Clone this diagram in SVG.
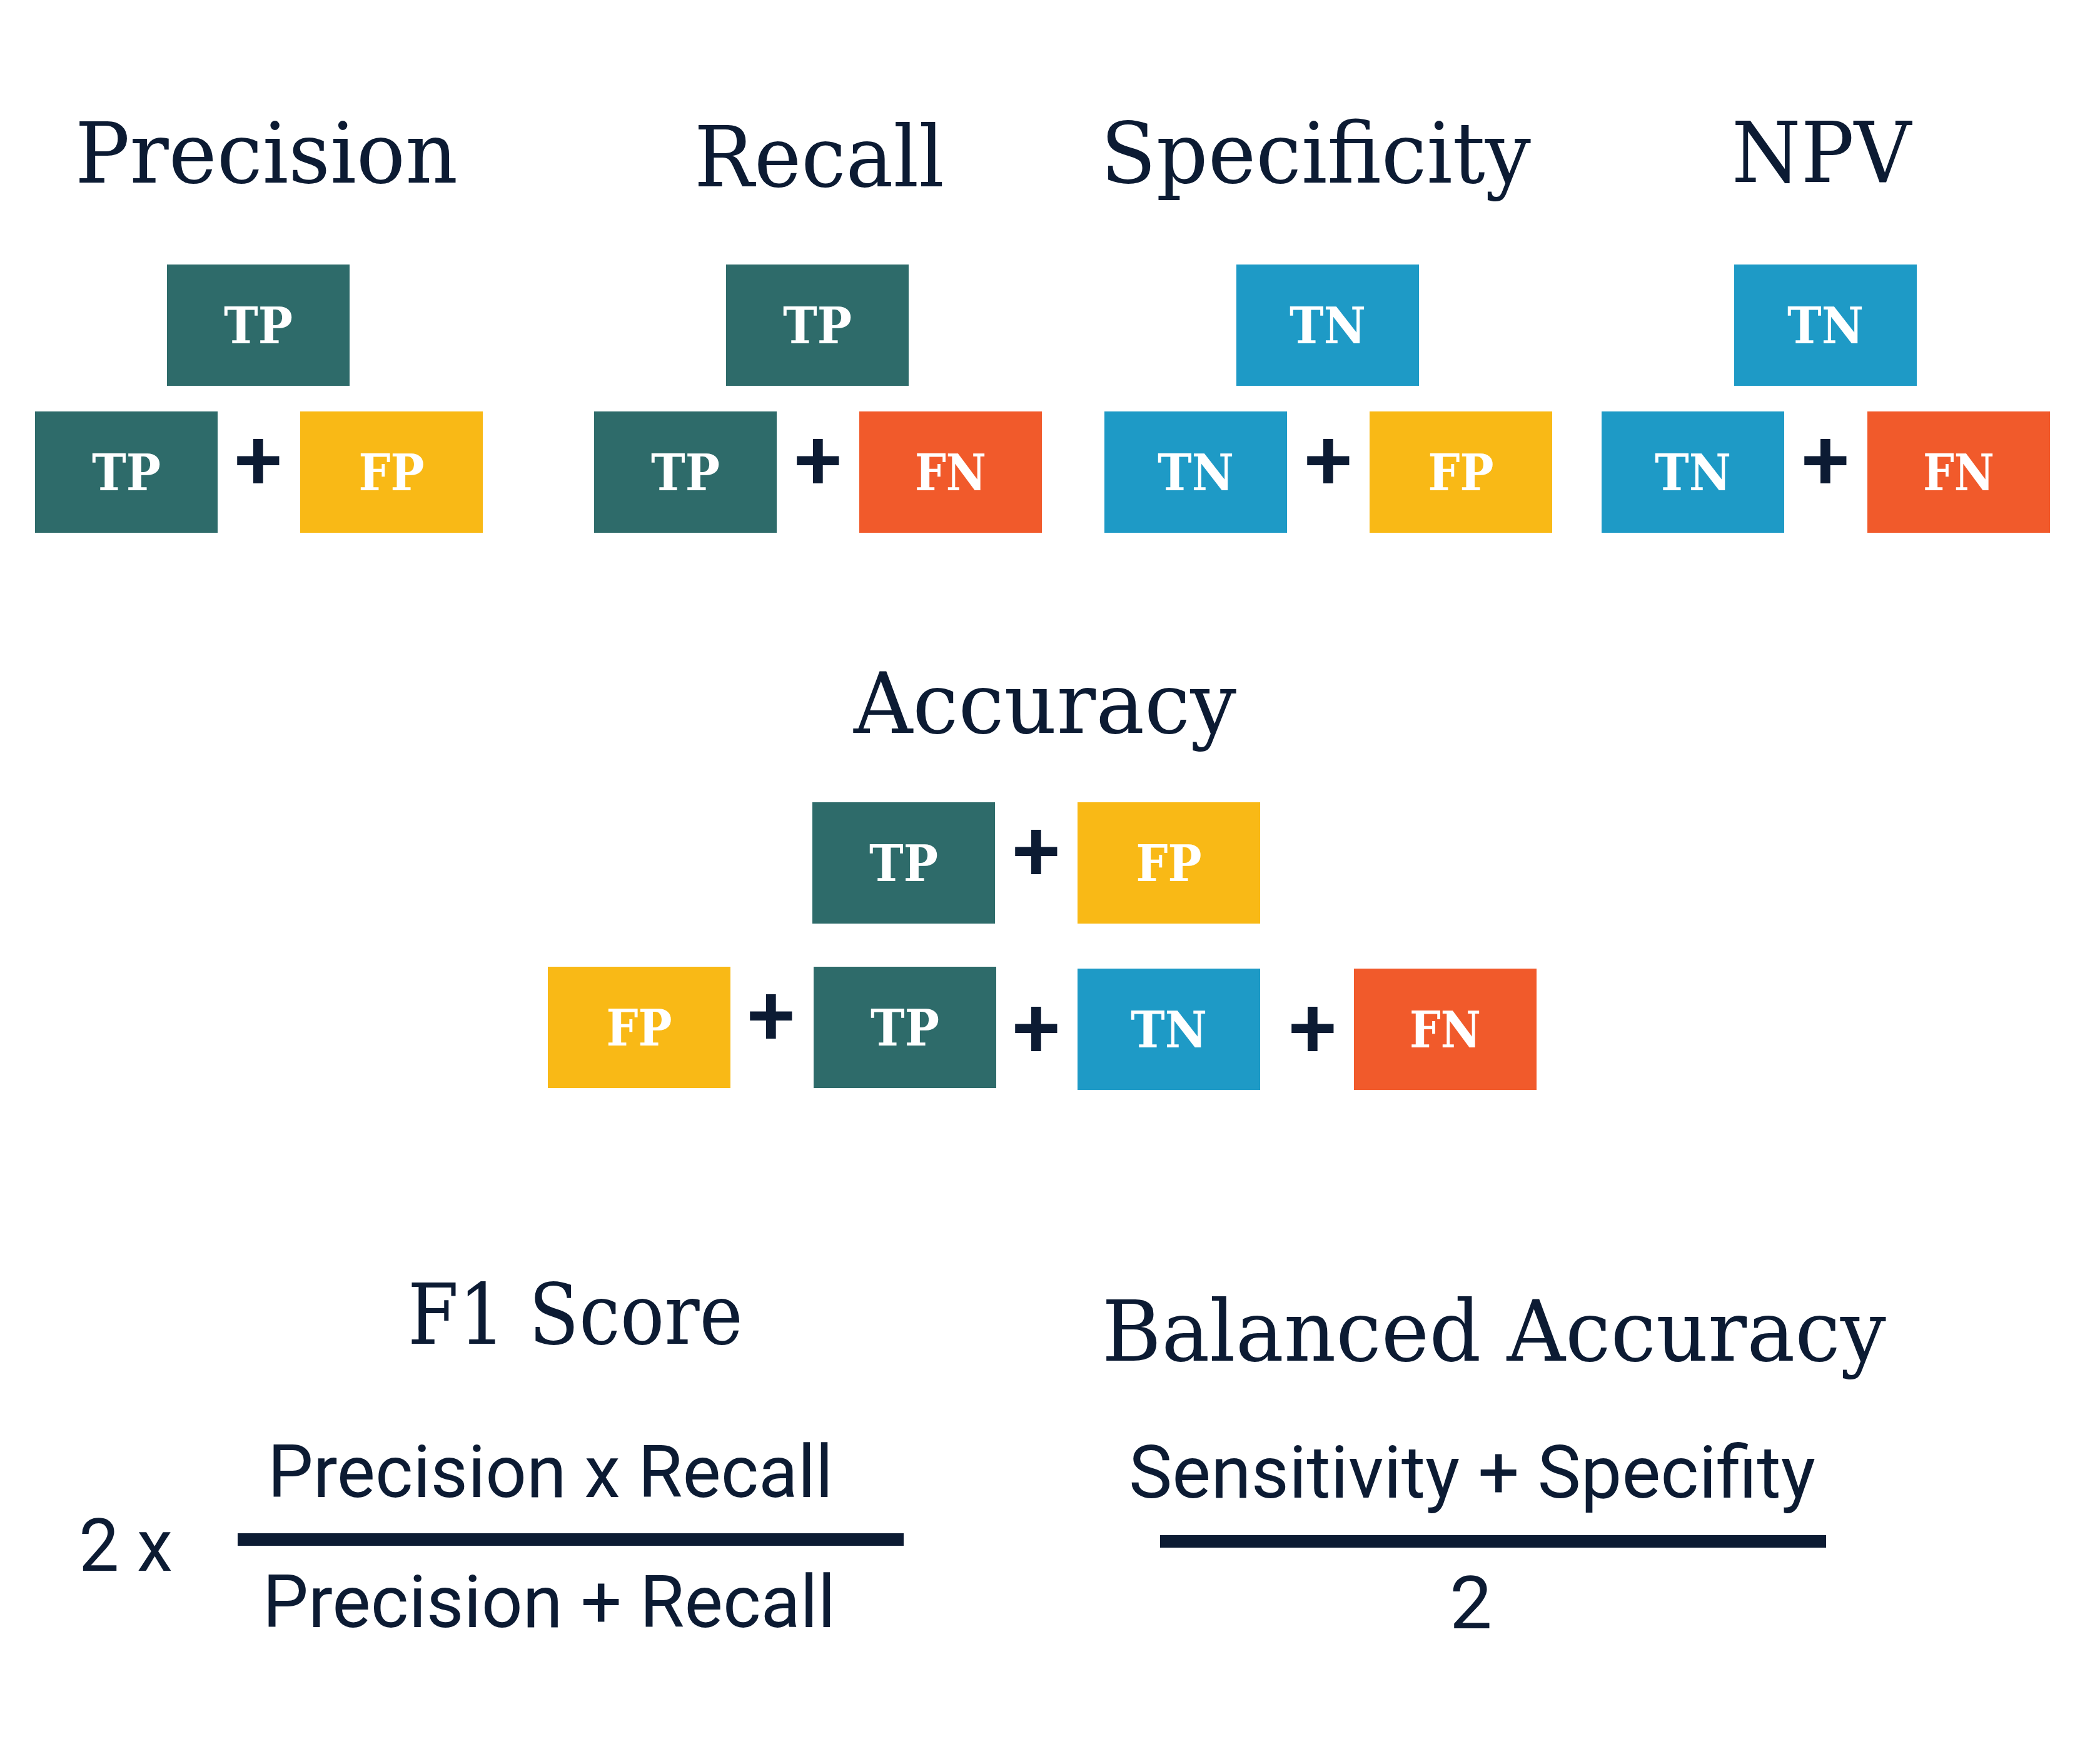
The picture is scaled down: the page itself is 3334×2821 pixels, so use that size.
<svg xmlns="http://www.w3.org/2000/svg" width="3334" height="2821" viewBox="0 0 3334 2821">
<style>
.title{font-family:"DejaVu Serif","Liberation Serif",serif;font-size:134px;fill:#0c1b33}
.lab{font-family:"DejaVu Serif","Liberation Serif",serif;font-weight:bold;font-size:80px;fill:#ffffff;text-anchor:middle}
.sans{font-family:Roboto,"Liberation Sans",sans-serif;font-size:117px;fill:#0c1b33}
.op{font-family:Roboto,"Liberation Sans",sans-serif;font-weight:500;font-size:138px;fill:#0c1b33;text-anchor:middle}
.tp{fill:#2e6b6a}.fp{fill:#f9b916}.fn{fill:#f15a2b}.tn{fill:#1e9ac6}
.bar{fill:#0c1b33}
</style>
<rect width="3334" height="2821" fill="#ffffff"/>

<g id="precision">
<text class="title" x="120" y="292" textLength="612" lengthAdjust="spacingAndGlyphs">Precision</text>
<g id="prec-num"><rect class="tp" x="267" y="423" width="292" height="194"/><text class="lab" x="413" y="549" textLength="110" lengthAdjust="spacingAndGlyphs">TP</text></g>
<g id="prec-d1"><rect class="tp" x="56" y="658" width="292" height="194"/><text class="lab" x="202" y="784" textLength="110" lengthAdjust="spacingAndGlyphs">TP</text></g>
<text class="op" x="413" y="783">+</text>
<g id="prec-d2"><rect class="fp" x="480" y="658" width="292" height="194"/><text class="lab" x="626" y="784" textLength="105" lengthAdjust="spacingAndGlyphs">FP</text></g>
</g>

<g id="recall">
<text class="title" x="1110" y="298" textLength="400" lengthAdjust="spacingAndGlyphs">Recall</text>
<g id="rec-num"><rect class="tp" x="1161" y="423" width="292" height="194"/><text class="lab" x="1307" y="549" textLength="110" lengthAdjust="spacingAndGlyphs">TP</text></g>
<g id="rec-d1"><rect class="tp" x="950" y="658" width="292" height="194"/><text class="lab" x="1096" y="784" textLength="110" lengthAdjust="spacingAndGlyphs">TP</text></g>
<text class="op" x="1308" y="783">+</text>
<g id="rec-d2"><rect class="fn" x="1374" y="658" width="292" height="194"/><text class="lab" x="1520" y="784" textLength="114" lengthAdjust="spacingAndGlyphs">FN</text></g>
</g>

<g id="specificity">
<text class="title" x="1760" y="292" textLength="688" lengthAdjust="spacingAndGlyphs">Specificity</text>
<g id="spec-num"><rect class="tn" x="1977" y="423" width="292" height="194"/><text class="lab" x="2123" y="549" textLength="122" lengthAdjust="spacingAndGlyphs">TN</text></g>
<g id="spec-d1"><rect class="tn" x="1766" y="658" width="292" height="194"/><text class="lab" x="1912" y="784" textLength="122" lengthAdjust="spacingAndGlyphs">TN</text></g>
<text class="op" x="2124" y="783">+</text>
<g id="spec-d2"><rect class="fp" x="2190" y="658" width="292" height="194"/><text class="lab" x="2336" y="784" textLength="105" lengthAdjust="spacingAndGlyphs">FP</text></g>
</g>

<g id="npv">
<text class="title" x="2769" y="291" textLength="287" lengthAdjust="spacingAndGlyphs">NPV</text>
<g id="npv-num"><rect class="tn" x="2773" y="423" width="292" height="194"/><text class="lab" x="2919" y="549" textLength="122" lengthAdjust="spacingAndGlyphs">TN</text></g>
<g id="npv-d1"><rect class="tn" x="2561" y="658" width="292" height="194"/><text class="lab" x="2707" y="784" textLength="122" lengthAdjust="spacingAndGlyphs">TN</text></g>
<text class="op" x="2919" y="783">+</text>
<g id="npv-d2"><rect class="fn" x="2986" y="658" width="292" height="194"/><text class="lab" x="3132" y="784" textLength="114" lengthAdjust="spacingAndGlyphs">FN</text></g>
</g>

<g id="accuracy">
<text class="title" x="1365" y="1172" textLength="612" lengthAdjust="spacingAndGlyphs">Accuracy</text>
<g id="acc-n1"><rect class="tp" x="1299" y="1283" width="292" height="194"/><text class="lab" x="1445" y="1409" textLength="110" lengthAdjust="spacingAndGlyphs">TP</text></g>
<text class="op" x="1657" y="1408">+</text>
<g id="acc-n2"><rect class="fp" x="1723" y="1283" width="292" height="194"/><text class="lab" x="1869" y="1409" textLength="105" lengthAdjust="spacingAndGlyphs">FP</text></g>
<g id="acc-d1"><rect class="fp" x="876" y="1546" width="292" height="194"/><text class="lab" x="1022" y="1672" textLength="105" lengthAdjust="spacingAndGlyphs">FP</text></g>
<text class="op" x="1233" y="1671">+</text>
<g id="acc-d2"><rect class="tp" x="1301" y="1546" width="292" height="194"/><text class="lab" x="1447" y="1672" textLength="110" lengthAdjust="spacingAndGlyphs">TP</text></g>
<text class="op" x="1657" y="1691">+</text>
<g id="acc-d3"><rect class="tn" x="1723" y="1549" width="292" height="194"/><text class="lab" x="1869" y="1675" textLength="122" lengthAdjust="spacingAndGlyphs">TN</text></g>
<text class="op" x="2099" y="1691">+</text>
<g id="acc-d4"><rect class="fn" x="2165" y="1549" width="292" height="194"/><text class="lab" x="2311" y="1675" textLength="114" lengthAdjust="spacingAndGlyphs">FN</text></g>
</g>

<g id="f1">
<text class="title" x="652" y="2149" textLength="536" lengthAdjust="spacingAndGlyphs">F1 Score</text>
<text class="sans" x="428" y="2394" textLength="904" lengthAdjust="spacingAndGlyphs">Precision x Recall</text>
<rect class="bar" x="380" y="2452" width="1065" height="20"/>
<text class="sans" x="420" y="2602" textLength="916" lengthAdjust="spacingAndGlyphs">Precision + Recall</text>
<text class="sans" x="126" y="2512" textLength="150" lengthAdjust="spacingAndGlyphs">2 x</text>
</g>

<g id="balanced">
<text class="title" x="1762" y="2176" textLength="1254" lengthAdjust="spacingAndGlyphs">Balanced Accuracy</text>
<text class="sans" x="1805" y="2395" textLength="1098" lengthAdjust="spacingAndGlyphs">Sensitivity + Specifity</text>
<rect class="bar" x="1855" y="2455" width="1065" height="20"/>
<text class="sans" x="2318" y="2604" textLength="68" lengthAdjust="spacingAndGlyphs">2</text>
</g>

<g id="connectors"></g>
</svg>
